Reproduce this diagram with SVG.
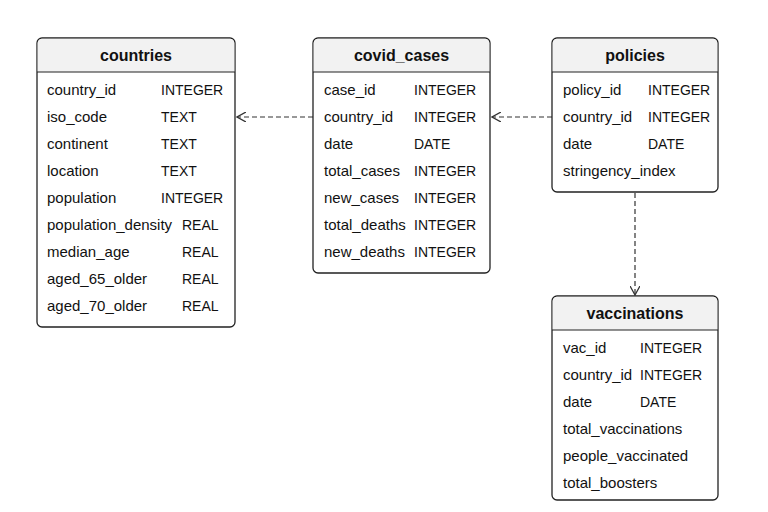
<svg xmlns="http://www.w3.org/2000/svg" width="768" height="512" viewBox="0 0 768 512">
<defs>
<style>
.box{fill:#fff;stroke:#222;stroke-width:1.3}
.hd{fill:#f2f2f2}
.sep{stroke:#222;stroke-width:1}
.t{font-family:"Liberation Sans",Arial,sans-serif;font-size:15px;fill:#111}
.y{font-family:"Liberation Sans",Arial,sans-serif;font-size:14px;fill:#111}
.h{font-family:"Liberation Sans",Arial,sans-serif;font-size:16px;font-weight:bold;fill:#111;text-anchor:middle}
.c{fill:none;stroke:#333;stroke-width:1.2;stroke-dasharray:5,3}
</style>
<marker id="ar" viewBox="0 0 10 10" refX="9" refY="5" markerWidth="10" markerHeight="10" markerUnits="userSpaceOnUse" orient="auto">
<path d="M0,0 L9,5 L0,10" fill="none" stroke="#333" stroke-width="1.3"/>
</marker>
</defs>
<rect width="768" height="512" fill="#fff"/>
<g id="connectors">
<line class="c" x1="313" y1="117" x2="237" y2="117" marker-end="url(#ar)"/>
<line class="c" x1="552" y1="117" x2="492" y2="117" marker-end="url(#ar)"/>
<line class="c" x1="635" y1="193" x2="635" y2="295" marker-end="url(#ar)"/>
</g>
<g id="countries">
<rect class="box" x="37" y="38" width="198" height="289" rx="5"/>
<path class="hd" d="M42,38.7 H230 A4.3,4.3 0 0 1 234.3,43 V72 H37.7 V43 A4.3,4.3 0 0 1 42,38.7 Z"/>
<line class="sep" x1="37" y1="72" x2="235" y2="72"/>
<text class="h" x="136" y="61">countries</text>
<text class="t" x="47" y="95">country_id</text><text class="y" x="161" y="95">INTEGER</text>
<text class="t" x="47" y="122">iso_code</text><text class="y" x="161" y="122">TEXT</text>
<text class="t" x="47" y="149">continent</text><text class="y" x="161" y="149">TEXT</text>
<text class="t" x="47" y="176">location</text><text class="y" x="161" y="176">TEXT</text>
<text class="t" x="47" y="203">population</text><text class="y" x="161" y="203">INTEGER</text>
<text class="t" x="47" y="230">population_density</text><text class="y" x="182" y="230">REAL</text>
<text class="t" x="47" y="257">median_age</text><text class="y" x="182" y="257">REAL</text>
<text class="t" x="47" y="284">aged_65_older</text><text class="y" x="182" y="284">REAL</text>
<text class="t" x="47" y="311">aged_70_older</text><text class="y" x="182" y="311">REAL</text>
</g>
<g id="covid_cases">
<rect class="box" x="313" y="38" width="177" height="235" rx="5"/>
<path class="hd" d="M318,38.7 H485 A4.3,4.3 0 0 1 489.3,43 V72 H313.7 V43 A4.3,4.3 0 0 1 318,38.7 Z"/>
<line class="sep" x1="313" y1="72" x2="490" y2="72"/>
<text class="h" x="401.5" y="61">covid_cases</text>
<text class="t" x="324" y="95">case_id</text><text class="y" x="414" y="95">INTEGER</text>
<text class="t" x="324" y="122">country_id</text><text class="y" x="414" y="122">INTEGER</text>
<text class="t" x="324" y="149">date</text><text class="y" x="414" y="149">DATE</text>
<text class="t" x="324" y="176">total_cases</text><text class="y" x="414" y="176">INTEGER</text>
<text class="t" x="324" y="203">new_cases</text><text class="y" x="414" y="203">INTEGER</text>
<text class="t" x="324" y="230">total_deaths</text><text class="y" x="414" y="230">INTEGER</text>
<text class="t" x="324" y="257">new_deaths</text><text class="y" x="414" y="257">INTEGER</text>
</g>
<g id="policies">
<rect class="box" x="552" y="38" width="166" height="154" rx="5"/>
<path class="hd" d="M557,38.7 H713 A4.3,4.3 0 0 1 717.3,43 V72 H552.7 V43 A4.3,4.3 0 0 1 557,38.7 Z"/>
<line class="sep" x1="552" y1="72" x2="718" y2="72"/>
<text class="h" x="635" y="61">policies</text>
<text class="t" x="563" y="95">policy_id</text><text class="y" x="648" y="95">INTEGER</text>
<text class="t" x="563" y="122">country_id</text><text class="y" x="648" y="122">INTEGER</text>
<text class="t" x="563" y="149">date</text><text class="y" x="648" y="149">DATE</text>
<text class="t" x="563" y="176">stringency_index</text>
</g>
<g id="vaccinations">
<rect class="box" x="552" y="296" width="166" height="204" rx="5"/>
<path class="hd" d="M557,296.7 H713 A4.3,4.3 0 0 1 717.3,301 V330 H552.7 V301 A4.3,4.3 0 0 1 557,296.7 Z"/>
<line class="sep" x1="552" y1="330" x2="718" y2="330"/>
<text class="h" x="635" y="319">vaccinations</text>
<text class="t" x="563" y="353">vac_id</text><text class="y" x="640" y="353">INTEGER</text>
<text class="t" x="563" y="380">country_id</text><text class="y" x="640" y="380">INTEGER</text>
<text class="t" x="563" y="407">date</text><text class="y" x="640" y="407">DATE</text>
<text class="t" x="563" y="434">total_vaccinations</text>
<text class="t" x="563" y="461">people_vaccinated</text>
<text class="t" x="563" y="488">total_boosters</text>
</g>
</svg>
